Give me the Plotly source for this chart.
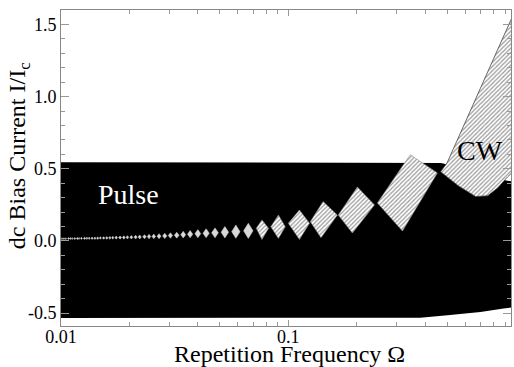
import numpy as np
import plotly.graph_objects as go

# ---------------- data ----------------
# Pulse regime (black band): upper and lower boundaries
pulse_top_omega = [0.009, 0.47, 0.60, 0.90, 1.10]
pulse_top_current = [0.545, 0.540, 0.500, 0.420, 0.395]
pulse_bot_omega = [1.10, 0.885, 0.701, 0.502, 0.381, 0.009]
pulse_bot_current = [-0.450, -0.469, -0.493, -0.516, -0.532, -0.535]

# Large phase-locked steps (Omega = 1/3, 1/5, ..., 1/13): four vertices each
step_top_omega = [0.344, 0.2014, 0.1423, 0.112, 0.0905, 0.0766]
step_top_current = [0.597, 0.374, 0.272, 0.214, 0.179, 0.145]
step_right_omega = [0.453, 0.2395, 0.1644, 0.124, 0.097, 0.0819]
step_right_current = [0.471, 0.249, 0.179, 0.122, 0.098, 0.087]
step_bot_omega = [0.318, 0.1915, 0.1393, 0.112, 0.0905, 0.0766]
step_bot_current = [0.068, 0.054, 0.022, 0.010, 0.017, 0.010]
step_left_omega = [0.2466, 0.166, 0.125, 0.100, 0.0838, 0.0723]
step_left_current = [0.263, 0.179, 0.133, 0.122, 0.098, 0.087]

# Small steps (Omega = 1/15 ... 1/99): centre frequency, lower / upper current
tiny_omega = [0.0667, 0.0588, 0.0526, 0.0476, 0.0435, 0.0400, 0.0370, 0.0345,
              0.0323, 0.0303, 0.0286, 0.0270, 0.0256, 0.0244, 0.0233, 0.0222,
              0.0213, 0.0204, 0.0196, 0.0189, 0.0182, 0.0175, 0.0169, 0.0164,
              0.0159, 0.0154, 0.0149, 0.0145, 0.0141, 0.0137, 0.0133, 0.0130,
              0.0127, 0.0123, 0.0120, 0.0118, 0.0115, 0.0112, 0.0110, 0.0108,
              0.0105, 0.0103, 0.0101]
tiny_low = [0.017, 0.018, 0.020, 0.021, 0.022, 0.022, 0.021, 0.020,
            0.019, 0.018, 0.016, 0.015, 0.015, 0.014, 0.014, 0.013,
            0.013, 0.013, 0.013, 0.012, 0.012, 0.012, 0.012, 0.011,
            0.011, 0.011, 0.011, 0.010, 0.010, 0.010, 0.010, 0.010,
            0.010, 0.010, 0.010, 0.009, 0.009, 0.009, 0.009, 0.009,
            0.009, 0.009, 0.009]
tiny_high = [0.122, 0.110, 0.100, 0.090, 0.084, 0.078, 0.072, 0.066,
             0.060, 0.056, 0.053, 0.050, 0.047, 0.045, 0.043, 0.041,
             0.039, 0.037, 0.036, 0.035, 0.034, 0.033, 0.032, 0.031,
             0.030, 0.029, 0.029, 0.028, 0.027, 0.027, 0.026, 0.026,
             0.025, 0.025, 0.024, 0.024, 0.024, 0.023, 0.023, 0.023,
             0.022, 0.022, 0.022]

# CW regime (hatched band rising to the upper right)
cw_omega = [1.096, 0.500, 0.468, 0.561, 0.667, 0.754, 0.834, 0.923, 1.107, 1.16]
cw_current = [1.744, 0.541, 0.479, 0.381, 0.307, 0.312, 0.367, 0.444, 0.562, 1.744]

x_tick_vals = [0.01, 0.1]
x_tick_text = ["0.01", "0.1"]
y_tick_vals = [-0.5, 0.0, 0.5, 1.0, 1.5]
y_tick_text = ["-0.5", "0.0", "0.5", "1.0", "1.5"]

# ---------------- figure ----------------
FONT = "Liberation Serif, Times New Roman, serif"
hatch = dict(shape="/", bgcolor="white", fgcolor="#333333", size=3, solidity=0.4)

fig = go.Figure()

# black pulse band
fig.add_trace(go.Scatter(
    x=pulse_top_omega + pulse_bot_omega,
    y=pulse_top_current + pulse_bot_current,
    mode="lines", fill="toself", fillcolor="black",
    line=dict(width=0, color="black"), hoverinfo="skip", showlegend=False))

# large steps
bx, by = [], []
for i in range(len(step_top_omega)):
    bx += [step_top_omega[i], step_right_omega[i], step_bot_omega[i], step_left_omega[i], step_top_omega[i], None]
    by += [step_top_current[i], step_right_current[i], step_bot_current[i], step_left_current[i], step_top_current[i], None]
fig.add_trace(go.Scatter(
    x=bx, y=by, mode="lines", fill="toself", fillpattern=hatch, fillcolor="white",
    line=dict(width=0.6, color="#888"), hoverinfo="skip", showlegend=False))

# small steps
tx, ty = [], []
logs = np.log10(tiny_omega)
for i in range(len(tiny_omega)):
    if i + 1 < len(tiny_omega):
        gap = logs[i] - logs[i + 1]
    else:
        gap = logs[i - 1] - logs[i]
    hw = 0.38 * gap
    xc = tiny_omega[i]
    xl = 10 ** (logs[i] - hw)
    xr = 10 ** (logs[i] + hw)
    ym = 0.5 * (tiny_low[i] + tiny_high[i])
    tx += [xc, xr, xc, xl, xc, None]
    ty += [tiny_high[i], ym, tiny_low[i], ym, tiny_high[i], None]
fig.add_trace(go.Scatter(
    x=tx, y=ty, mode="lines", fill="toself", fillcolor="#d8d8d8",
    line=dict(width=0.5, color="#cfcfcf"), hoverinfo="skip", showlegend=False))

# CW band
fig.add_trace(go.Scatter(
    x=cw_omega, y=cw_current, mode="lines", fill="toself", fillpattern=hatch,
    fillcolor="white", line=dict(width=0.8, color="#444"),
    hoverinfo="skip", showlegend=False))

# labels
fig.add_annotation(x=np.log10(0.0199), y=0.318, xref="x", yref="y", text="Pulse",
                   showarrow=False, font=dict(family=FONT, size=28, color="white"))
fig.add_annotation(x=np.log10(0.701), y=0.624, xref="x", yref="y", text="CW",
                   showarrow=False, font=dict(family=FONT, size=28, color="black"))

# axis titles
fig.add_annotation(x=-0.093, y=0.538, xref="paper", yref="paper",
                   text="dc Bias Current I/I<sub>c</sub>", textangle=-90,
                   showarrow=False, xanchor="center", yanchor="middle",
                   font=dict(family=FONT, size=24, color="black"))
fig.add_annotation(x=0.507, y=-0.09, xref="paper", yref="paper",
                   text="Repetition Frequency Ω",
                   showarrow=False, xanchor="center", yanchor="middle",
                   font=dict(family=FONT, size=24, color="black"))

axis_common = dict(showline=True, linecolor="#888", linewidth=1, mirror="ticks",
                   ticks="inside", tickcolor="#999", showgrid=False, zeroline=False,
                   tickfont=dict(family=FONT, size=18, color="black"))

fig.update_xaxes(type="log", range=[-2, -0.02],
                 tickvals=x_tick_vals, ticktext=x_tick_text, ticklen=6,
                 ticklabelstandoff=-6,
                 minor=dict(ticks="inside", ticklen=4, tickcolor="#999",
                            tickvals=[0.02, 0.03, 0.04, 0.05, 0.06, 0.07, 0.08, 0.09,
                                      0.2, 0.3, 0.4, 0.5, 0.6, 0.7, 0.8, 0.9],
                            showgrid=False),
                 **axis_common)
fig.update_yaxes(range=[-0.59, 1.6],
                 tickvals=y_tick_vals, ticktext=y_tick_text, ticklen=8,
                 minor=dict(ticks="inside", ticklen=4, tickcolor="#999", dtick=0.1,
                            showgrid=False),
                 **axis_common)

fig.update_layout(width=514, height=367,
                  margin=dict(l=61, r=3, t=10, b=41),
                  paper_bgcolor="white", plot_bgcolor="white",
                  showlegend=False, font=dict(family=FONT))

fig.write_html("out.html", config={"displayModeBar": False},
               post_script="document.body.style.margin='0';document.body.style.padding='0';")
